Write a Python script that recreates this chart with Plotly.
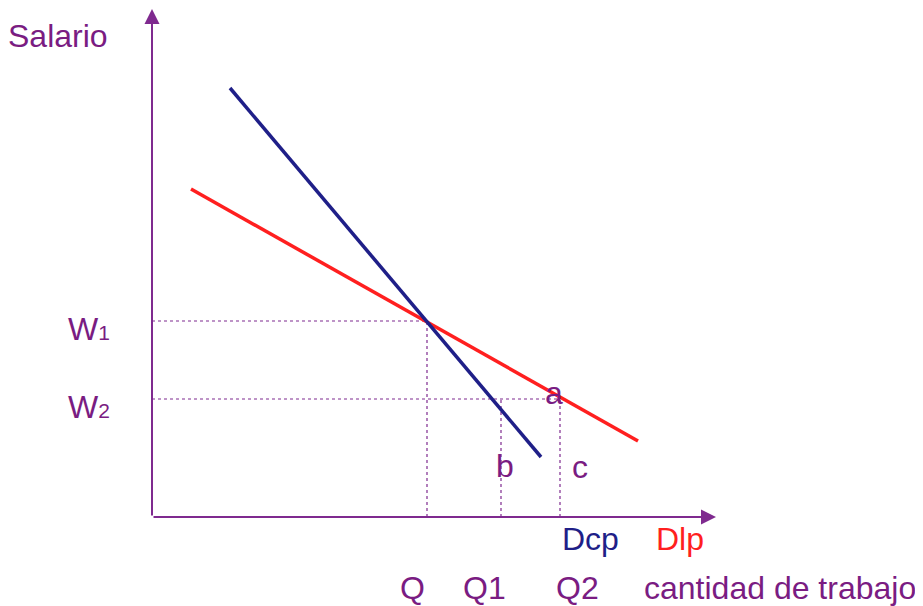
import plotly.graph_objects as go

# demand curves (x = cantidad de trabajo, y = salario)
dcp_x = [78, 389]
dcp_y = [429, 60]
dlp_x = [39, 486]
dlp_y = [328, 76]

w_names = ["W<span style='font-size:21px'>1</span>", "W<span style='font-size:21px'>2</span>"]
w_levels = [196, 118]
q_names = ["Q", "Q1", "Q2"]
q_levels = [275, 349, 408]

x_max = 564
y_max = 508

PURPLE = "#7a1c82"
AXIS = "#7f2a8f"
BLUE = "#1f1f88"
RED = "#ff1f1f"
FONT = "Arial, Liberation Sans, sans-serif"

fig = go.Figure()

# dotted guide lines
dot = dict(color=AXIS, width=1.2, dash="dot")
fig.add_trace(go.Scatter(x=[0, q_levels[0]], y=[w_levels[0]] * 2, mode="lines", line=dot))
fig.add_trace(go.Scatter(x=[0, q_levels[2]], y=[w_levels[1]] * 2, mode="lines", line=dot))
fig.add_trace(go.Scatter(x=[q_levels[0]] * 2, y=[0, w_levels[0]], mode="lines", line=dot))
fig.add_trace(go.Scatter(x=[q_levels[1]] * 2, y=[0, w_levels[1]], mode="lines", line=dot))
fig.add_trace(go.Scatter(x=[q_levels[2]] * 2, y=[0, w_levels[1]], mode="lines", line=dot))

# demand curves
fig.add_trace(go.Scatter(x=dlp_x, y=dlp_y, mode="lines", name="Dlp", line=dict(color=RED, width=3.5)))
fig.add_trace(go.Scatter(x=dcp_x, y=dcp_y, mode="lines", name="Dcp", line=dict(color=BLUE, width=3.5)))

# axes with arrowheads
for tip in [(0, y_max), (x_max, 0)]:
    fig.add_annotation(x=tip[0], y=tip[1], ax=0, ay=0, xref="x", yref="y", axref="x", ayref="y",
                       text="", showarrow=True, arrowhead=2, arrowsize=1.5, arrowwidth=2,
                       arrowcolor=AXIS, standoff=0)

def label(x, y, text, color=PURPLE, size=32):
    fig.add_annotation(x=x, y=y, xref="x", yref="y", text=text, showarrow=False,
                       font=dict(family=FONT, size=size, color=color),
                       xanchor="center", yanchor="middle")

label(-94, 481, "Salario")
for name, w in zip(w_names, w_levels):
    label(-63, w - 8, name)
for name, q, dx in zip(q_names, q_levels, [-15, -17, 17]):
    label(q + dx, -71, name)
label(q_levels[1] + 4, 51, "b")
label(q_levels[2] - 6, 124, "a")
label(q_levels[2] + 20, 50, "c")
label(438, -22, "Dcp", BLUE)
label(528, -22, "Dlp", RED)
label(628, -71, "cantidad de trabajo")

# page body has an 8px margin, so the figure is 8px smaller and shifted
fig.update_xaxes(range=[-144, 771], visible=False, fixedrange=True)
fig.update_yaxes(range=[-89, 509], visible=False, fixedrange=True)
fig.update_layout(width=915, height=598, margin=dict(l=0, r=0, t=0, b=0),
                  plot_bgcolor="white", paper_bgcolor="white", showlegend=False)

fig.write_html("out.html")
